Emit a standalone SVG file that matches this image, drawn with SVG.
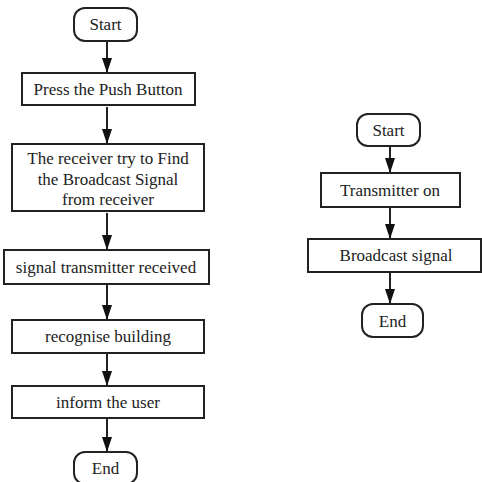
<svg xmlns="http://www.w3.org/2000/svg" width="482" height="482" viewBox="0 0 482 482">
<defs>
<style>
.box{fill:#fff;stroke:#222;stroke-width:2}
.t{font-family:"Liberation Serif","Times New Roman",serif;font-size:17px;fill:#222;text-anchor:middle}
.c{stroke:#222;stroke-width:2;fill:none}
</style>
<marker id="ah" viewBox="0 0 10 15" refX="10" refY="5" markerWidth="10" markerHeight="15" markerUnits="userSpaceOnUse" orient="auto"><path d="M0,0 L15,5 L0,10 Z" fill="#111"/></marker>
<marker id="a" viewBox="0 0 15 10" refX="15" refY="5" markerWidth="15" markerHeight="10" markerUnits="userSpaceOnUse" orient="auto"><path d="M0,0 L15,5 L0,10 Z" fill="#111"/></marker>
</defs>
<rect width="482" height="482" fill="#fff"/>
<g id="connectors">
<line class="c" x1="107" y1="41" x2="107" y2="73" marker-end="url(#a)"/>
<line class="c" x1="107" y1="107" x2="107" y2="144" marker-end="url(#a)"/>
<line class="c" x1="107" y1="213" x2="107" y2="250" marker-end="url(#a)"/>
<line class="c" x1="107" y1="285" x2="107" y2="320" marker-end="url(#a)"/>
<line class="c" x1="107" y1="354" x2="107" y2="386" marker-end="url(#a)"/>
<line class="c" x1="107" y1="419" x2="107" y2="452" marker-end="url(#a)"/>
<line class="c" x1="390" y1="146" x2="390" y2="173" marker-end="url(#a)"/>
<line class="c" x1="390" y1="207" x2="390" y2="239" marker-end="url(#a)"/>
<line class="c" x1="390" y1="272" x2="390" y2="304" marker-end="url(#a)"/>
</g>
<g id="start1"><rect class="box" x="74" y="8" width="63" height="33" rx="11"/><text class="t" x="105.5" y="30">Start</text></g>
<g id="press"><rect class="box" x="22" y="73" width="173" height="32"/><text class="t" x="108" y="95">Press the Push Button</text></g>
<g id="receiver"><rect class="box" x="12" y="144" width="192" height="67"/><text class="t" x="108" y="164">The receiver try to Find</text><text class="t" x="108" y="185">the Broadcast Signal</text><text class="t" x="108" y="205">from receiver</text></g>
<g id="signal"><rect class="box" x="4" y="250" width="205" height="34"/><text class="t" x="106" y="273">signal transmitter received</text></g>
<g id="recognise"><rect class="box" x="12" y="320" width="192" height="33"/><text class="t" x="108" y="342">recognise building</text></g>
<g id="inform"><rect class="box" x="12" y="386" width="192" height="32"/><text class="t" x="108" y="408">inform the user</text></g>
<g id="end1"><rect class="box" x="74" y="452" width="63" height="32" rx="11"/><text class="t" x="105.5" y="474">End</text></g>
<g id="start2"><rect class="box" x="357" y="114" width="63" height="32" rx="11"/><text class="t" x="388.5" y="136">Start</text></g>
<g id="transmitter"><rect class="box" x="321" y="173" width="139" height="34"/><text class="t" x="390" y="196">Transmitter on</text></g>
<g id="broadcast"><rect class="box" x="308" y="239" width="173" height="33"/><text class="t" x="396" y="261">Broadcast signal</text></g>
<g id="end2"><rect class="box" x="362" y="304" width="61" height="33" rx="11"/><text class="t" x="392.5" y="327">End</text></g>
</svg>
